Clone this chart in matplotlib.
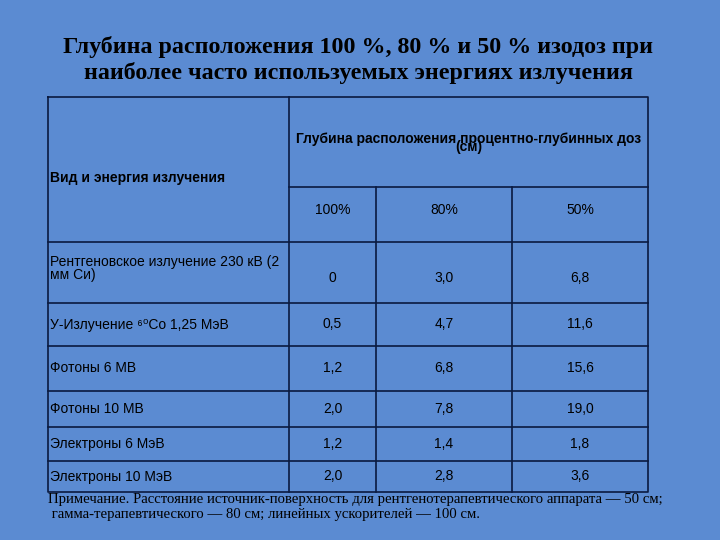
import matplotlib.pyplot as plt

title = "Глубина расположения 100 %, 80 % и 50 % изодоз при\nнаиболее часто используемых энергиях излучения"
row_label = "Вид и энергия излучения"
group_header = "Глубина расположения процентно-глубинных доз\n(см)"
columns = ["100%", "80%", "50%"]
rows = ["Рентгеновское излучение 230 кВ (2\nмм Си)", "У-Излучение ⁶⁰Со 1,25 МэВ",
        "Фотоны 6 МВ", "Фотоны 10 МВ", "Электроны 6 МэВ", "Электроны 10 МэВ"]
values = [["0", "3,0", "6,8"], ["0,5", "4,7", "11,6"], ["1,2", "6,8", "15,6"],
          ["2,0", "7,8", "19,0"], ["1,2", "1,4", "1,8"], ["2,0", "2,8", "3,6"]]
note = ("Примечание. Расстояние источник-поверхность для рентгенотерапевтического аппарата — 50 см;\n"
        " гамма-терапевтического — 80 см; линейных ускорителей — 100 см.")

bg = "#5b8bd2"
line = "#0a1a40"
fig = plt.figure(figsize=(7.2, 5.4), dpi=100, facecolor=bg)
ax = fig.add_axes([0, 0, 1, 1])
ax.set_xlim(0, 720)
ax.set_ylim(540, 0)
ax.axis("off")

ax.text(358, 60, title, ha="center", va="center", fontsize=17.3, fontweight="bold",
        family="Liberation Serif", color="black", linespacing=1.2)

xs = [48, 289, 376, 512, 648]
ys = [97, 187, 242, 303, 346, 391, 427, 461, 492]
kw = dict(color=line, lw=1.2)
# outer frame
ax.plot([xs[0], xs[-1], xs[-1], xs[0], xs[0]], [ys[0], ys[0], ys[-1], ys[-1], ys[0]], **kw)
ax.plot([xs[1], xs[1]], [ys[0], ys[-1]], **kw)
ax.plot([xs[1], xs[-1]], [ys[1], ys[1]], **kw)
for x in xs[2:4]:
    ax.plot([x, x], [ys[1], ys[-1]], **kw)
for y in ys[2:-1]:
    ax.plot([xs[0], xs[-1]], [y, y], **kw)

f = dict(family=["Liberation Sans", "DejaVu Sans"], color="black")
ax.text(xs[0] + 2, 178, row_label, ha="left", va="center", fontsize=10, fontweight="bold", **f)
ax.text((xs[1] + xs[-1]) / 2, 143, group_header, ha="center", va="center", fontsize=10,
        fontweight="bold", linespacing=0.5, **f)
for i, c in enumerate(columns):
    ax.text((xs[i + 1] + xs[i + 2]) / 2, 210, c, ha="center", va="center", fontsize=10, **f)
for r, (lab, vals) in enumerate(zip(rows, values)):
    yc = (ys[r + 2] + ys[r + 3]) / 2
    ax.text(xs[0] + 2, yc - 4 if r == 0 else yc, lab, ha="left", va="center", fontsize=10,
            linespacing=0.95, **f)
    for i, v in enumerate(vals):
        ax.text((xs[i + 1] + xs[i + 2]) / 2, yc + (6 if r == 0 else 0), v,
                ha="center", va="center", fontsize=10, **f)

ax.text(48, 507, note, ha="left", va="center", fontsize=10.6, family="Liberation Serif",
        color="black", linespacing=1.2)

fig.savefig("out.png", dpi=100, facecolor=bg)
